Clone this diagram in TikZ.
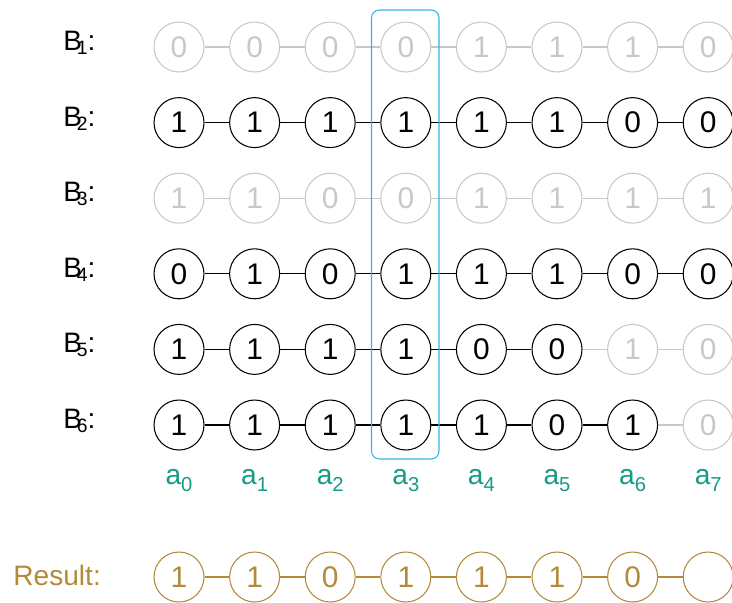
\documentclass[tikz,border=0pt]{standalone}
\usepackage{fontspec}
\setmainfont{Liberation Sans}
\definecolor{offgray}{RGB}{200,200,200}
\definecolor{boxblue}{RGB}{56,178,226}
\definecolor{idxteal}{RGB}{22,155,133}
\definecolor{resgold}{RGB}{178,138,58}
\newcommand{\blbl}[1]{B\kern-3pt\raisebox{-0.14em}{\fontsize{11pt}{11pt}\selectfont #1}:}
\newcommand{\albl}[1]{a\raisebox{-0.25em}{\fontsize{11.5pt}{11.5pt}\selectfont #1}}
\begin{document}
\begin{tikzpicture}[x=0.02cm,y=-0.02cm,
	bit/.style={circle,draw,minimum size=1cm,inner sep=0pt,line width=0.6pt,
		font=\fontsize{17pt}{19pt}\selectfont},
	lbl/.style={anchor=base west,inner sep=0pt,font=\fontsize{16pt}{18pt}\selectfont},
	link/.style={line width=0.6pt}]
	\useasboundingbox (0,0) rectangle (732,602);
	\foreach \r/\n/\vals in {1/0/{0,0,0,0,1,1,1,0},2/8/{1,1,1,1,1,1,0,0},
		3/0/{1,1,0,0,1,1,1,1},4/8/{0,1,0,1,1,1,0,0},
		5/6/{1,1,1,1,0,0,1,0},6/7/{1,1,1,1,1,0,1,0}}{
		\node[lbl] (B\r) at (63,{47+75.6*(\r-1)+3.5}) {\blbl{\r}};
		\foreach \v [count=\c from 0,remember=\c as \p (initially 0)] in \vals {
			\ifnum\c<\n \def\bc{black}\else\def\bc{offgray}\fi
			\node[bit,draw=\bc,text=\bc] (b\r-\c) at ({179+75.6*\c},{47+75.6*(\r-1)}) {\v};
			\ifnum\c>0 \draw[link,\bc] (b\r-\p) -- (b\r-\c);\fi
		}
	}
	\foreach \c in {0,...,7}
		\node[anchor=base,inner sep=0pt,text=idxteal,font=\fontsize{16pt}{18pt}\selectfont]
			(a\c) at ({179+75.6*\c},484) {\albl{\c}};
	\draw[boxblue,line width=0.6pt,rounded corners=4.5pt] (371.5,10) rectangle (439,459);
	\node[lbl,text=resgold] (res) at (13,585) {Result:};
	\foreach \v [count=\c from 0,remember=\c as \p (initially 0)] in {1,1,0,1,1,1,0,{}} {
		\node[bit,draw=resgold,text=resgold] (r\c) at ({179+75.6*\c},577) {\v};
		\ifnum\c>0 \draw[link,resgold] (r\p) -- (r\c);\fi
	}
\end{tikzpicture}
\end{document}
